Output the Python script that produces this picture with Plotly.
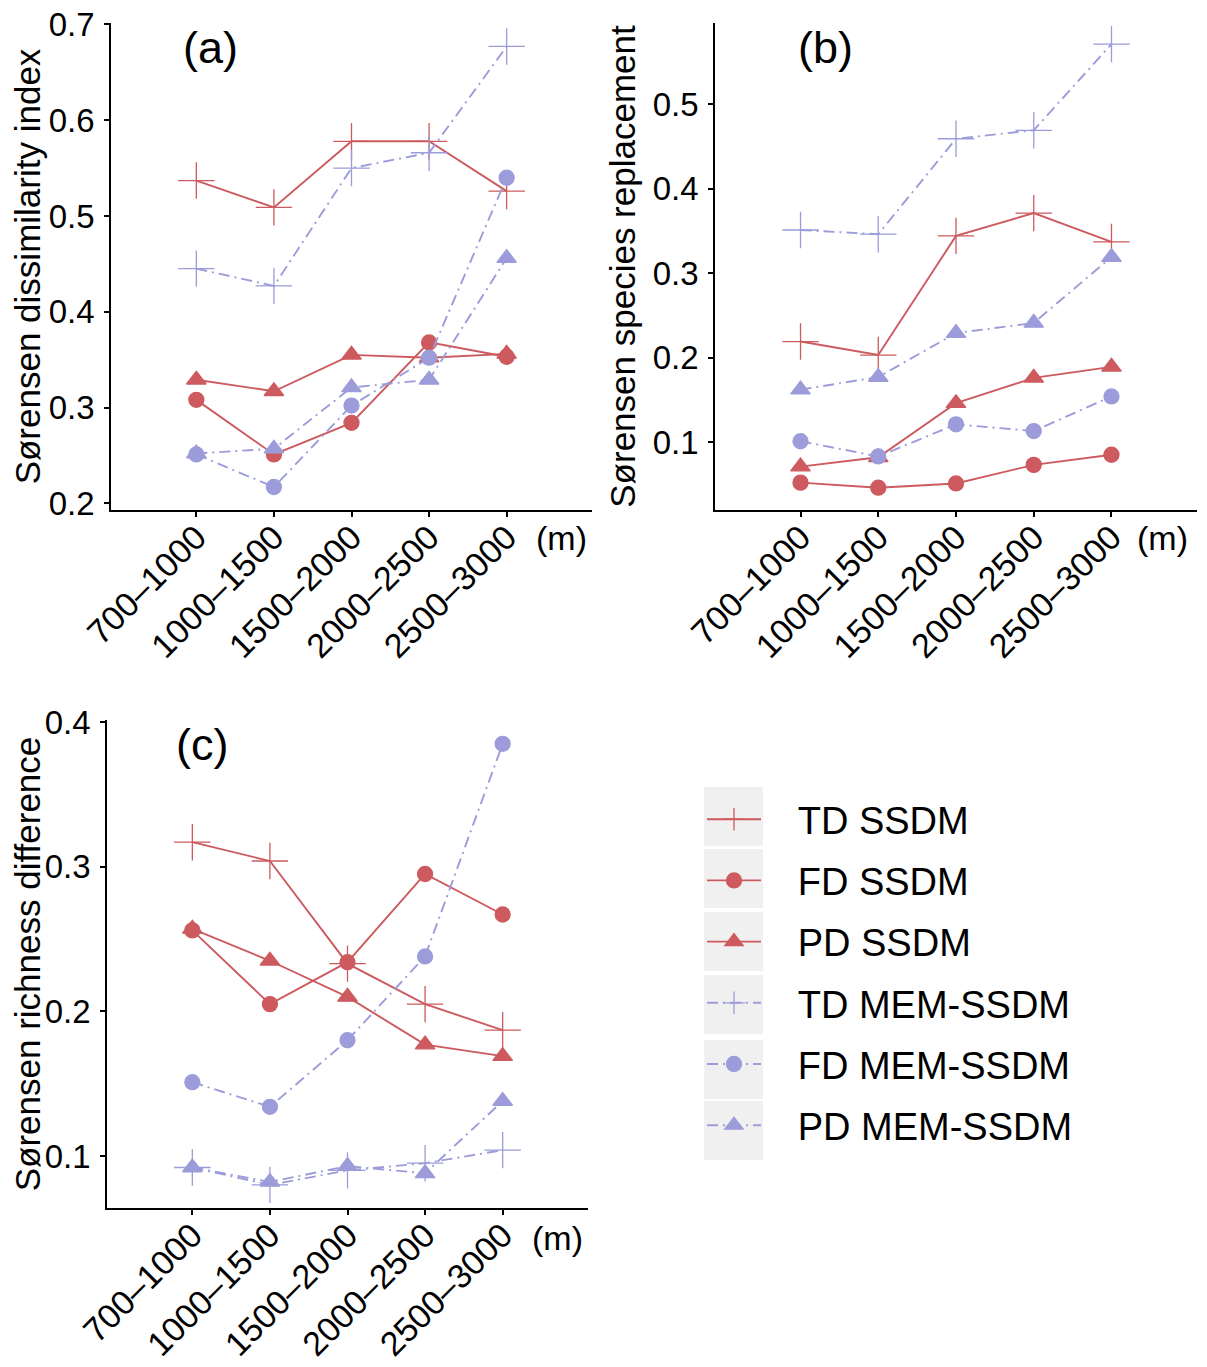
import plotly.graph_objects as go

# Screenshot is 1207x1367; the page adds an 8px body margin, so the figure is slightly smaller
OFF = 8
W, H = 1207 - OFF, 1367 - OFF

categories = ["700–1000", "1000–1500", "1500–2000", "2000–2500", "2500–3000"]
series_names = ["TD SSDM", "FD SSDM", "PD SSDM", "TD MEM-SSDM", "FD MEM-SSDM", "PD MEM-SSDM"]

# Panel (a): Sørensen dissimilarity index
a_td_ssdm = [0.537, 0.509, 0.578, 0.578, 0.526]
a_fd_ssdm = [0.308, 0.251, 0.284, 0.368, 0.353]
a_pd_ssdm = [0.329, 0.317, 0.355, 0.352, 0.356]
a_td_mem = [0.445, 0.427, 0.550, 0.566, 0.677]
a_fd_mem = [0.251, 0.217, 0.302, 0.352, 0.540]
a_pd_mem = [0.252, 0.257, 0.321, 0.329, 0.456]

# Panel (b): Sørensen species replacement
b_td_ssdm = [0.219, 0.203, 0.344, 0.371, 0.337]
b_fd_ssdm = [0.052, 0.046, 0.051, 0.073, 0.085]
b_pd_ssdm = [0.071, 0.082, 0.146, 0.176, 0.189]
b_td_mem = [0.351, 0.346, 0.459, 0.469, 0.571]
b_fd_mem = [0.101, 0.083, 0.121, 0.113, 0.154]
b_pd_mem = [0.162, 0.177, 0.229, 0.241, 0.319]

# Panel (c): Sørensen richness difference
c_td_ssdm = [0.317, 0.304, 0.233, 0.205, 0.187]
c_fd_ssdm = [0.256, 0.205, 0.234, 0.295, 0.267]
c_pd_ssdm = [0.257, 0.235, 0.210, 0.177, 0.169]
c_td_mem = [0.092, 0.080, 0.090, 0.095, 0.104]
c_fd_mem = [0.151, 0.134, 0.180, 0.238, 0.385]
c_pd_mem = [0.092, 0.082, 0.093, 0.088, 0.138]

panel_a = [a_td_ssdm, a_fd_ssdm, a_pd_ssdm, a_td_mem, a_fd_mem, a_pd_mem]
panel_b = [b_td_ssdm, b_fd_ssdm, b_pd_ssdm, b_td_mem, b_fd_mem, b_pd_mem]
panel_c = [c_td_ssdm, c_fd_ssdm, c_pd_ssdm, c_td_mem, c_fd_mem, c_pd_mem]

y_titles = ["Sørensen dissimilarity index", "Sørensen species replacement", "Sørensen richness difference"]
panel_labels = ["(a)", "(b)", "(c)"]

RED = "#CD5A5E"
BLUE = "#9C9CDA"
DASHDOT = "11px,5px,2px,5px"
colors = [RED, RED, RED, BLUE, BLUE, BLUE]
dashes = ["solid", "solid", "solid", DASHDOT, DASHDOT, DASHDOT]
symbols = ["cross-thin-open", "circle", "triangle-up", "cross-thin-open", "circle", "triangle-up"]
msizes = [26, 15, 17, 26, 15, 17]

FONT = "Liberation Sans, Arial, sans-serif"
NB = "\u00a0"

fig = go.Figure()

panels = [panel_a, panel_b, panel_c]
for p, data in enumerate(panels):
    xa = "x" if p == 0 else f"x{p+1}"
    ya = "y" if p == 0 else f"y{p+1}"
    for i, vals in enumerate(data):
        fig.add_trace(go.Scatter(
            x=categories, y=vals, xaxis=xa, yaxis=ya,
            mode="lines+markers", name=NB * 3 + series_names[i],
            legendgroup=series_names[i], showlegend=(p == 0),
            line=dict(color=colors[i], width=1.9, dash=dashes[i]),
            marker=dict(symbol=symbols[i], size=msizes[i], color=colors[i],
                        line=dict(color=colors[i], width=1.3)),
        ))

def px_x(v):
    return (v - OFF) / W

def px_y(v):
    return 1 - (v - OFF) / H

domains = [
    ([px_x(111), px_x(592)], [px_y(510), px_y(23)]),
    ([px_x(715), px_x(1197)], [px_y(510), px_y(23)]),
    ([px_x(107), px_x(588)], [px_y(1208), px_y(720)]),
]
yranges = [[0.193, 0.7015], [0.0196, 0.596], [0.064, 0.4015]]
ytickvals = [[0.2, 0.3, 0.4, 0.5, 0.6, 0.7], [0.1, 0.2, 0.3, 0.4, 0.5], [0.1, 0.2, 0.3, 0.4]]

layout = dict(
    width=W, height=H,
    margin=dict(l=0, r=0, t=0, b=0),
    paper_bgcolor="white", plot_bgcolor="white",
    font=dict(family=FONT, color="black", size=34),
    showlegend=True,
    legend=dict(
        x=px_x(702), y=px_y(788), xanchor="left", yanchor="top",
        font=dict(size=38, family=FONT, color="black"),
        bgcolor="rgba(0,0,0,0)", tracegroupgap=8.8, itemwidth=54,
        traceorder="grouped",
    ),
)

for p in range(3):
    xk = "xaxis" if p == 0 else f"xaxis{p+1}"
    yk = "yaxis" if p == 0 else f"yaxis{p+1}"
    xref = "y" if p == 0 else f"y{p+1}"
    xref_x = "x" if p == 0 else f"x{p+1}"
    layout[xk] = dict(
        domain=domains[p][0], anchor=xref, type="category",
        range=[-1.1, 5.1], showgrid=False, zeroline=False,
        showline=True, linecolor="black", linewidth=1.5,
        ticks="outside", ticklen=5, tickwidth=1.5, tickcolor="black",
        tickangle=-45, tickfont=dict(size=34, family=FONT, color="black"),
        ticklabelstandoff=-13, ticklabeloverflow="allow",
        automargin=False,
    )
    layout[yk] = dict(
        domain=domains[p][1], anchor=xref_x,
        range=yranges[p], tickvals=ytickvals[p], tickformat=".1f",
        showgrid=False, zeroline=False,
        showline=True, linecolor="black", linewidth=1.5,
        ticks="outside", ticklen=5, tickwidth=1.5, tickcolor="black",
        tickfont=dict(size=33, family=FONT, color="black"),
        ticklabelstandoff=3, ticklabeloverflow="allow",
        title=dict(text=y_titles[p], font=dict(size=35, family=FONT, color="black"), standoff=7),
        automargin=False,
    )

fig.update_layout(**layout)

# Panel letters and unit labels
letter_pos = [(210, 48), (825, 48), (202, 745)]
unit_pos = [(561, 538), (1162, 538), (557, 1238)]
for p in range(3):
    fig.add_annotation(x=px_x(letter_pos[p][0]), y=px_y(letter_pos[p][1]), xref="paper", yref="paper",
                       text=panel_labels[p], showarrow=False, font=dict(size=45, family=FONT, color="black"),
                       xanchor="center", yanchor="middle")
    fig.add_annotation(x=px_x(unit_pos[p][0]), y=px_y(unit_pos[p][1]), xref="paper", yref="paper",
                       text="(m)", showarrow=False, font=dict(size=34, family=FONT, color="black"),
                       xanchor="center", yanchor="middle")

# Grey legend key backgrounds
key_tops = [787, 849, 912, 975, 1040, 1101]
for t in key_tops:
    fig.add_shape(type="rect", xref="paper", yref="paper",
                  x0=px_x(704), x1=px_x(763), y0=px_y(t + 59), y1=px_y(t),
                  fillcolor="#F0F0F0", line=dict(width=0), layer="below")

fig.write_html("out.html")
